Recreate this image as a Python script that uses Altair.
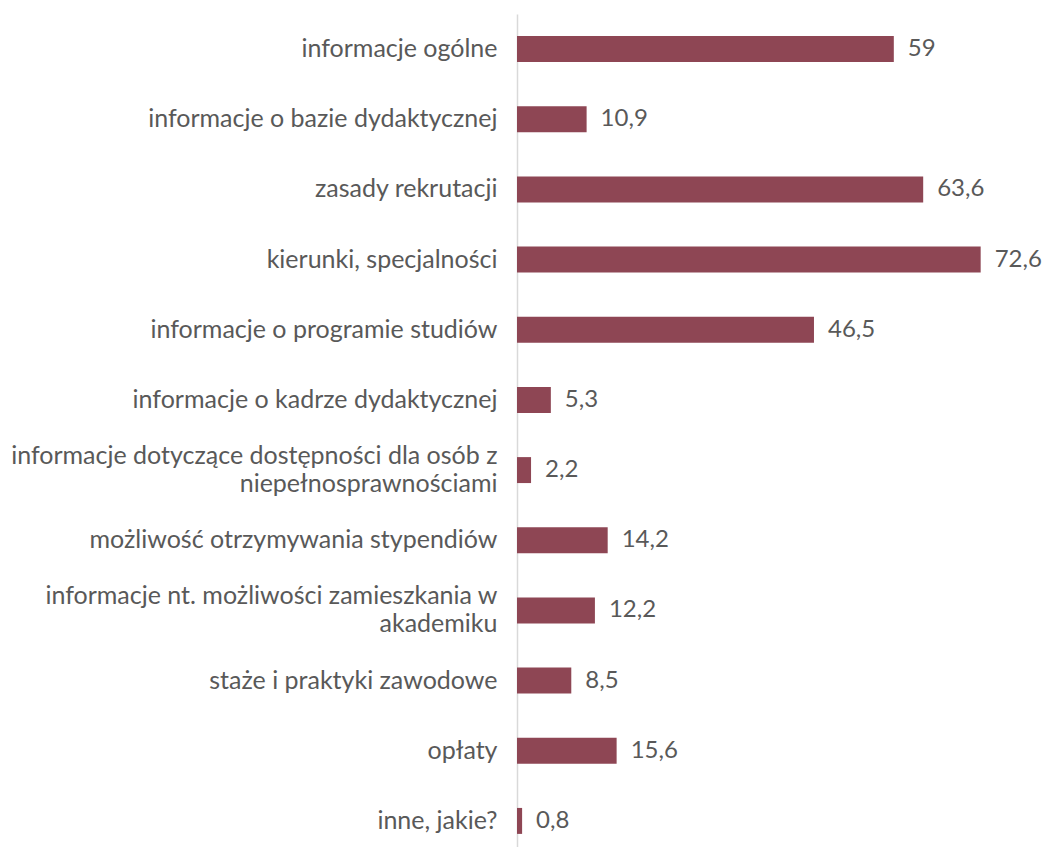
import altair as alt
import pandas as pd

categories = [
    "informacje ogólne",
    "informacje o bazie dydaktycznej",
    "zasady rekrutacji",
    "kierunki, specjalności",
    "informacje o programie studiów",
    "informacje o kadrze dydaktycznej",
    "informacje dotyczące dostępności dla osób z\nniepełnosprawnościami",
    "możliwość otrzymywania stypendiów",
    "informacje nt. możliwości zamieszkania w\nakademiku",
    "staże i praktyki zawodowe",
    "opłaty",
    "inne, jakie?",
]
values = [59, 10.9, 63.6, 72.6, 46.5, 5.3, 2.2, 14.2, 12.2, 8.5, 15.6, 0.8]

df = pd.DataFrame({
    "cat": categories,
    "value": values,
    "txt": [f"{v:g}".replace(".", ",") for v in values],
})

FONT = "Lato"
GRAY = "#595959"
FS = 25

y = alt.Y(
    "cat:N",
    sort=categories,
    scale=alt.Scale(paddingInner=0.63, paddingOuter=0.315),
    axis=alt.Axis(
        title=None,
        ticks=False,
        domainColor="#d9d9d9",
        domainWidth=1.5,
        labelFont=FONT,
        labelFontSize=FS,
        labelColor=GRAY,
        labelPadding=20,
        labelLimit=600,
        labelLineHeight=28,
        labelExpr="split(datum.label, '\\n')",
        labelOffset={
            "condition": {"test": "indexof(datum.value, '\\n') >= 0", "value": -14},
            "value": 0,
        },
    ),
)
x = alt.X(
    "value:Q",
    scale=alt.Scale(domain=[0, 75]),
    axis=None,
)

bars = alt.Chart(df).mark_bar(color="#8E4654").encode(x=x, y=y)
labels = alt.Chart(df).mark_text(
    align="left", baseline="middle", dx=14, font=FONT, fontSize=24, color=GRAY
).encode(x=x, y=y, text="txt:N")

chart = (
    alt.layer(bars, labels)
    .properties(
        width=479,
        height=842,
        autosize=alt.AutoSizeParams(type="none"),
        padding={"left": 509, "top": 6, "right": 47, "bottom": 0},
    )
    .configure_view(stroke=None)
)

chart.save("out.html", embed_options={"renderer": "svg", "actions": False})
